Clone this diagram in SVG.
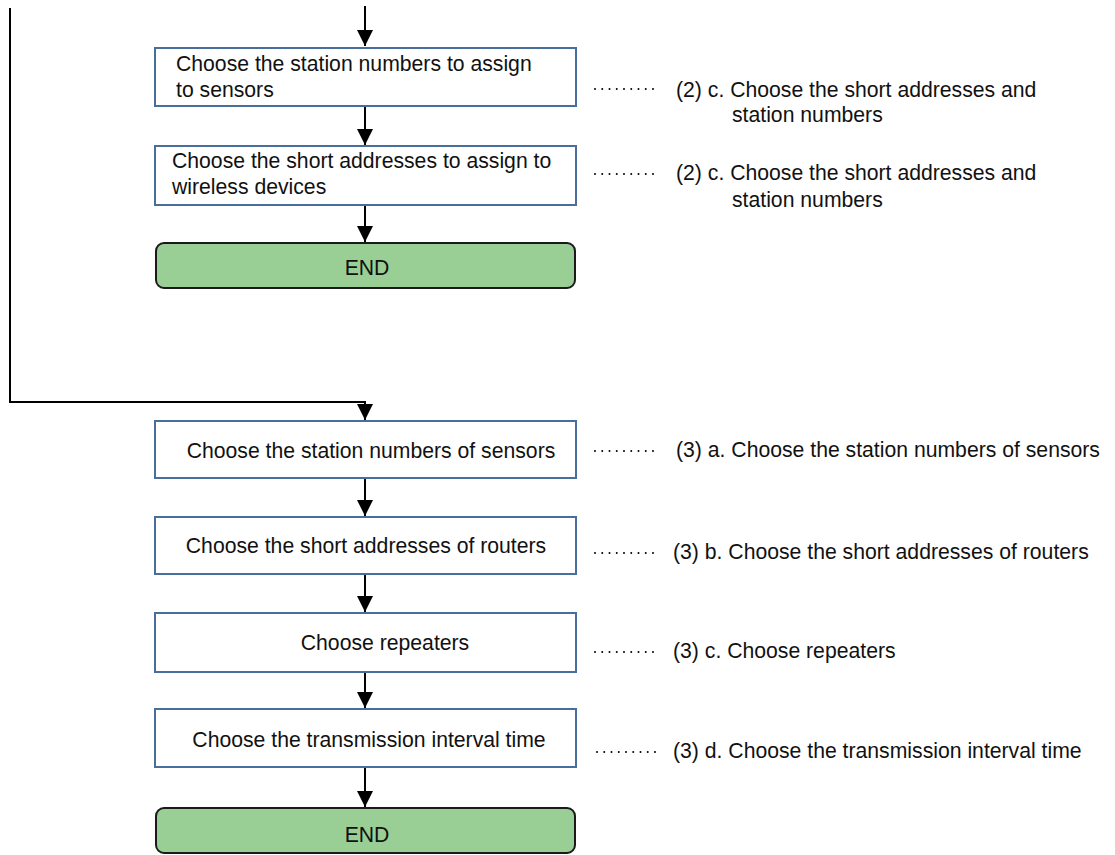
<svg xmlns="http://www.w3.org/2000/svg" width="1115" height="855" viewBox="0 0 1115 855">
<style>
  .box { fill: #ffffff; stroke: #4a6e9c; stroke-width: 2; }
  .end { fill: #99cf94; stroke: #1a1a1a; stroke-width: 2; }
  .t { font-family: "Liberation Sans", Arial, sans-serif; font-size: 21.2px; fill: #111111; }
  .c { text-anchor: middle; }
  .conn { fill: none; stroke: #000000; stroke-width: 2; }
  .dots { fill: none; stroke: #000000; stroke-width: 2; stroke-dasharray: 0 7.25; stroke-linecap: round; }
</style>
<defs>
  <marker id="arrow" markerWidth="16" markerHeight="16" viewBox="0 0 16 16" refX="16" refY="8" orient="auto" markerUnits="userSpaceOnUse">
    <path d="M0,0 L16,8 L0,16 Z" fill="#000000"/>
  </marker>
</defs>

<g id="connectors">
  <line class="conn" x1="365" y1="6" x2="365" y2="46" marker-end="url(#arrow)"/>
  <line class="conn" x1="365" y1="107" x2="365" y2="145" marker-end="url(#arrow)"/>
  <line class="conn" x1="365" y1="206" x2="365" y2="242" marker-end="url(#arrow)"/>
  <polyline class="conn" points="10,8 10,402 365,402 365,420" marker-end="url(#arrow)"/>
  <line class="conn" x1="365" y1="479" x2="365" y2="516" marker-end="url(#arrow)"/>
  <line class="conn" x1="365" y1="575" x2="365" y2="612" marker-end="url(#arrow)"/>
  <line class="conn" x1="365" y1="673" x2="365" y2="708" marker-end="url(#arrow)"/>
  <line class="conn" x1="365" y1="768" x2="365" y2="807" marker-end="url(#arrow)"/>
</g>

<g id="node-assign-station">
  <rect class="box" x="155" y="48" width="421" height="58"/>
  <text class="t" x="176" y="71">Choose the station numbers to assign</text>
  <text class="t" x="176" y="97">to sensors</text>
</g>
<g id="node-assign-short">
  <rect class="box" x="155" y="146" width="421" height="59"/>
  <text class="t" x="172" y="168">Choose the short addresses to assign to</text>
  <text class="t" x="172" y="194">wireless devices</text>
</g>
<g id="node-end1">
  <rect class="end" x="156" y="243" width="419" height="45" rx="8" ry="8"/>
  <text class="t c" x="367" y="275">END</text>
</g>

<g id="node-station-sensors">
  <rect class="box" x="155" y="421" width="421" height="57"/>
  <text class="t c" x="371" y="458">Choose the station numbers of sensors</text>
</g>
<g id="node-short-routers">
  <rect class="box" x="155" y="517" width="421" height="57"/>
  <text class="t c" x="366" y="553">Choose the short addresses of routers</text>
</g>
<g id="node-repeaters">
  <rect class="box" x="155" y="613" width="421" height="59"/>
  <text class="t c" x="385" y="650">Choose repeaters</text>
</g>
<g id="node-interval">
  <rect class="box" x="155" y="709" width="421" height="58"/>
  <text class="t c" x="369" y="747">Choose the transmission interval time</text>
</g>
<g id="node-end2">
  <rect class="end" x="156" y="808" width="419" height="45" rx="8" ry="8"/>
  <text class="t c" x="367" y="842">END</text>
</g>

<g id="labels">
  <line class="dots" x1="595" y1="89" x2="653.1" y2="89"/>
  <text class="t" x="676" y="97">(2) c. Choose the short addresses and</text>
  <text class="t" x="732" y="122">station numbers</text>

  <line class="dots" x1="595" y1="174" x2="653.1" y2="174"/>
  <text class="t" x="676" y="180">(2) c. Choose the short addresses and</text>
  <text class="t" x="732" y="207">station numbers</text>

  <line class="dots" x1="595" y1="451" x2="653.1" y2="451"/>
  <text class="t" x="676" y="457">(3) a. Choose the station numbers of sensors</text>

  <line class="dots" x1="595" y1="553" x2="653.1" y2="553"/>
  <text class="t" x="673" y="559">(3) b. Choose the short addresses of routers</text>

  <line class="dots" x1="595" y1="652" x2="653.1" y2="652"/>
  <text class="t" x="673" y="658">(3) c. Choose repeaters</text>

  <line class="dots" x1="597" y1="752" x2="655.1" y2="752"/>
  <text class="t" x="673" y="758">(3) d. Choose the transmission interval time</text>
</g>
</svg>
